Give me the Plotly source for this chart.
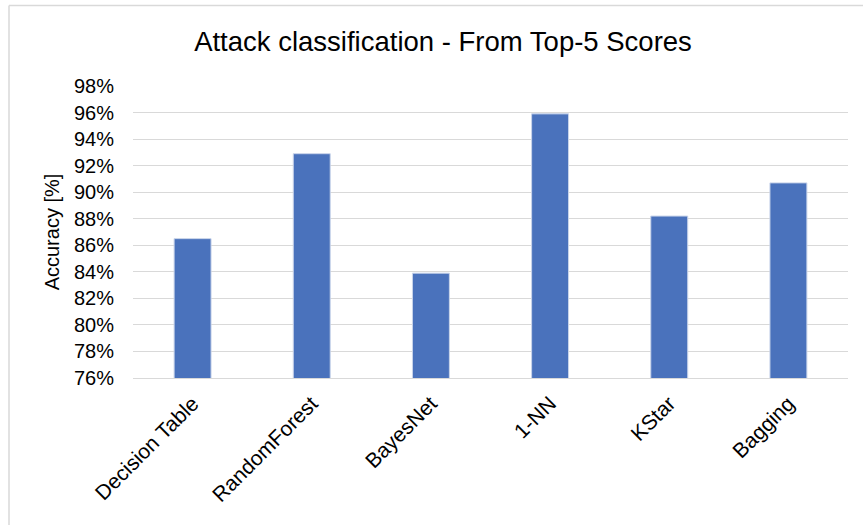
import plotly.graph_objects as go

categories = ["Decision Table", "RandomForest", "BayesNet", "1-NN", "KStar", "Bagging"]
accuracy = [0.865, 0.929, 0.839, 0.959, 0.882, 0.907]
tick_vals = [0.76, 0.78, 0.80, 0.82, 0.84, 0.86, 0.88, 0.90, 0.92, 0.94, 0.96, 0.98]

W, H = 863, 525
L, R, T, B = 133, 15, 86, 147
pw, ph = W - L - R, H - T - B

fig = go.Figure(go.Bar(
    x=categories, y=accuracy,
    marker=dict(color="#4a72bc", line=dict(color="#c9d4ea", width=1)),
))

def px_to_paper_x(px):
    return (px - L) / pw

def px_to_paper_y(py):
    return (H - B - py) / ph

fig.update_layout(
    width=W, height=H,
    margin=dict(l=L, r=R, t=T, b=B),
    paper_bgcolor="white", plot_bgcolor="white",
    bargap=0.69,
    showlegend=False,
    font=dict(family="Liberation Sans, Arial, sans-serif", color="#000000", size=20),
    title=dict(text="Attack classification - From Top-5 Scores", x=(443 - L) / pw, xref="paper",
               xanchor="center", y=1 - 41 / H, yanchor="middle",
               font=dict(size=27.5, color="#000000")),
    xaxis=dict(tickangle=-45, showgrid=False, showline=True, linecolor="#d9d9d9", linewidth=1,
               ticks="", tickfont=dict(size=21), ticklabelstandoff=4),
    yaxis=dict(range=[0.76, 0.98], tickvals=tick_vals, tickformat=".0%",
               showgrid=True, gridcolor="#d9d9d9", gridwidth=1, zeroline=False,
               ticks="", tickfont=dict(size=20), ticklabelstandoff=18,
               title=dict(text="Accuracy [%]", font=dict(size=20), standoff=8)),
    shapes=[
        dict(type="line", xref="paper", yref="paper",
             x0=px_to_paper_x(9), x1=px_to_paper_x(W + 5),
             y0=px_to_paper_y(5.5), y1=px_to_paper_y(5.5),
             line=dict(color="#d9d9d9", width=1.5)),
        dict(type="line", xref="paper", yref="paper",
             x0=px_to_paper_x(9), x1=px_to_paper_x(9),
             y0=px_to_paper_y(5.5), y1=px_to_paper_y(H + 5),
             line=dict(color="#d9d9d9", width=1.5)),
    ],
)

fig.write_html("out.html")
